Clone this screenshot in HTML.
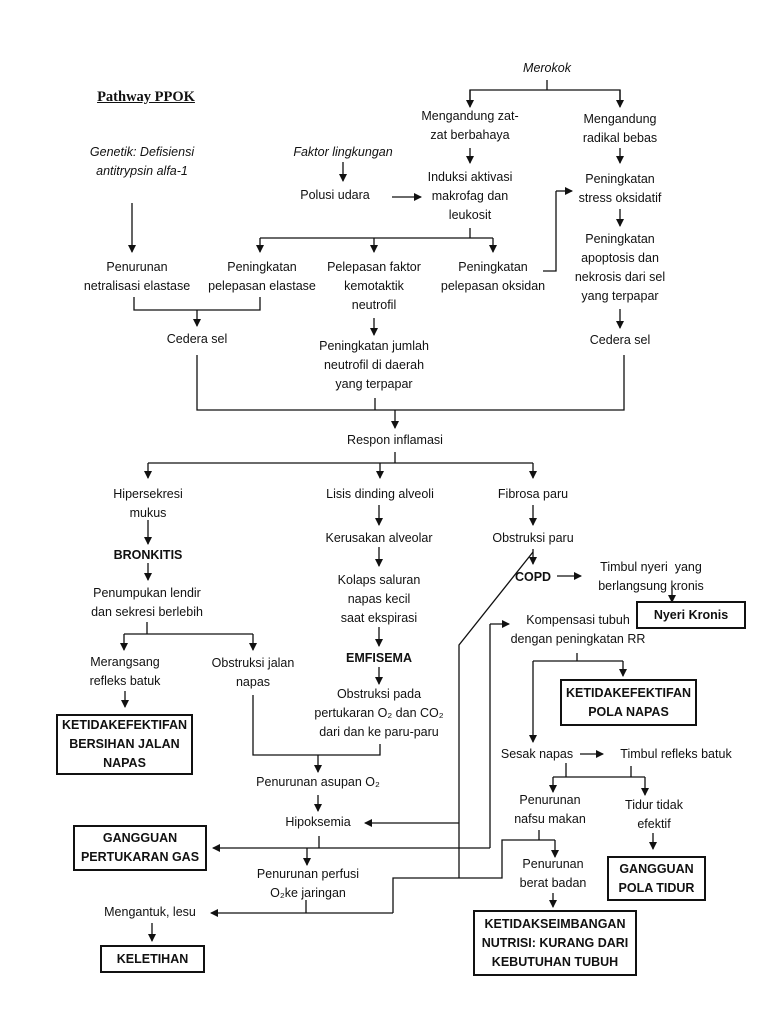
<!DOCTYPE html>
<html><head><meta charset="utf-8">
<style>
body{margin:0;background:#fff;}
#c{position:relative;width:768px;height:1024px;overflow:hidden;background:#fff;font-family:"Liberation Sans",sans-serif;font-size:12.5px;color:#111;}
.t{position:absolute;transform:translateX(-50%);white-space:pre;text-align:center;line-height:19px;}
.i{font-style:italic;}
.b{font-weight:bold;}
.bx{position:absolute;border:2px solid #111;box-sizing:border-box;display:flex;align-items:center;justify-content:center;text-align:center;font-weight:bold;font-size:12.5px;line-height:19px;white-space:pre;}
svg{position:absolute;left:0;top:0;}
</style></head><body>
<div id="c">
<svg width="768" height="1024" viewBox="0 0 768 1024">
<defs><marker id="a" markerWidth="8" markerHeight="8" refX="7" refY="4" orient="auto" markerUnits="userSpaceOnUse"><path d="M0,0 L8,4 L0,8 z" fill="#111"/></marker></defs>
<g fill="none" stroke="#111" stroke-width="1.3">
<!-- top -->
<line x1="547" y1="80" x2="547" y2="90"/>
<polyline points="470,106 470,90 620,90 620,106"/>
<line x1="470" y1="90" x2="470" y2="107" marker-end="url(#a)"/>
<line x1="620" y1="90" x2="620" y2="107" marker-end="url(#a)"/>
<line x1="470" y1="148" x2="470" y2="163" marker-end="url(#a)"/>
<line x1="620" y1="148" x2="620" y2="163" marker-end="url(#a)"/>
<line x1="343" y1="162" x2="343" y2="181" marker-end="url(#a)"/>
<line x1="392" y1="197" x2="421" y2="197" marker-end="url(#a)"/>
<line x1="132" y1="203" x2="132" y2="252" marker-end="url(#a)"/>
<line x1="470" y1="228" x2="470" y2="238"/>
<line x1="260" y1="238" x2="493" y2="238"/>
<line x1="260" y1="238" x2="260" y2="252" marker-end="url(#a)"/>
<line x1="374" y1="238" x2="374" y2="252" marker-end="url(#a)"/>
<line x1="493" y1="238" x2="493" y2="252" marker-end="url(#a)"/>
<polyline points="543,271 556,271 556,191"/>
<line x1="556" y1="191" x2="572" y2="191" marker-end="url(#a)"/>
<line x1="620" y1="209" x2="620" y2="226" marker-end="url(#a)"/>
<line x1="620" y1="309" x2="620" y2="328" marker-end="url(#a)"/>
<polyline points="134,297 134,310 260,310 260,297"/>
<line x1="197" y1="310" x2="197" y2="326" marker-end="url(#a)"/>
<line x1="374" y1="318" x2="374" y2="335" marker-end="url(#a)"/>
<polyline points="197,355 197,410 624,410 624,355"/>
<line x1="375" y1="398" x2="375" y2="410"/>
<line x1="395" y1="410" x2="395" y2="428" marker-end="url(#a)"/>
<!-- respon -->
<line x1="395" y1="452" x2="395" y2="463"/>
<line x1="148" y1="463" x2="533" y2="463"/>
<line x1="148" y1="463" x2="148" y2="478" marker-end="url(#a)"/>
<line x1="380" y1="463" x2="380" y2="478" marker-end="url(#a)"/>
<line x1="533" y1="463" x2="533" y2="478" marker-end="url(#a)"/>
<line x1="148" y1="520" x2="148" y2="544" marker-end="url(#a)"/>
<line x1="148" y1="563" x2="148" y2="580" marker-end="url(#a)"/>
<line x1="379" y1="505" x2="379" y2="525" marker-end="url(#a)"/>
<line x1="379" y1="547" x2="379" y2="566" marker-end="url(#a)"/>
<line x1="379" y1="627" x2="379" y2="646" marker-end="url(#a)"/>
<line x1="379" y1="667" x2="379" y2="684" marker-end="url(#a)"/>
<line x1="533" y1="505" x2="533" y2="525" marker-end="url(#a)"/>
<line x1="533" y1="549" x2="533" y2="564" marker-end="url(#a)"/>
<line x1="557" y1="576" x2="581" y2="576" marker-end="url(#a)"/>
<line x1="672" y1="588" x2="672" y2="602" marker-end="url(#a)"/>
<polyline points="533,552 459,645 459,878"/>
<line x1="577" y1="653" x2="577" y2="661"/>
<line x1="533" y1="661" x2="623" y2="661"/>
<line x1="623" y1="661" x2="623" y2="676" marker-end="url(#a)"/>
<line x1="533" y1="661" x2="533" y2="742" marker-end="url(#a)"/>
<line x1="580" y1="754" x2="603" y2="754" marker-end="url(#a)"/>
<line x1="566" y1="763" x2="566" y2="777"/>
<line x1="631" y1="766" x2="631" y2="777"/>
<line x1="553" y1="777" x2="645" y2="777"/>
<line x1="553" y1="777" x2="553" y2="792" marker-end="url(#a)"/>
<line x1="645" y1="777" x2="645" y2="795" marker-end="url(#a)"/>
<line x1="653" y1="833" x2="653" y2="849" marker-end="url(#a)"/>
<line x1="539" y1="830" x2="539" y2="840"/>
<polyline points="393,913 393,878 502,878 502,840 555,840"/>
<line x1="555" y1="840" x2="555" y2="857" marker-end="url(#a)"/>
<line x1="553" y1="893" x2="553" y2="907" marker-end="url(#a)"/>
<!-- left -->
<line x1="147" y1="622" x2="147" y2="634"/>
<line x1="124" y1="634" x2="253" y2="634"/>
<line x1="124" y1="634" x2="124" y2="650" marker-end="url(#a)"/>
<line x1="253" y1="634" x2="253" y2="650" marker-end="url(#a)"/>
<line x1="125" y1="691" x2="125" y2="707" marker-end="url(#a)"/>
<polyline points="253,695 253,755 380,755 380,744"/>
<line x1="318" y1="755" x2="318" y2="772" marker-end="url(#a)"/>
<line x1="318" y1="795" x2="318" y2="811" marker-end="url(#a)"/>
<line x1="459" y1="823" x2="365" y2="823" marker-end="url(#a)"/>
<line x1="319" y1="836" x2="319" y2="848"/>
<line x1="490" y1="848" x2="213" y2="848" marker-end="url(#a)"/>
<line x1="307" y1="848" x2="307" y2="865" marker-end="url(#a)"/>
<polyline points="490,848 490,624"/>
<line x1="490" y1="624" x2="509" y2="624" marker-end="url(#a)"/>
<line x1="306" y1="900" x2="306" y2="913"/>
<line x1="393" y1="913" x2="211" y2="913" marker-end="url(#a)"/>
<line x1="152" y1="923" x2="152" y2="941" marker-end="url(#a)"/>
</g>
</svg>

<div class="t b" style="left:146px;top:88px;font-family:'Liberation Serif',serif;font-size:14.5px;text-decoration:underline;">Pathway PPOK</div>
<div class="t i" style="left:547px;top:59px;">Merokok</div>
<div class="t" style="left:470px;top:107px;">Mengandung zat-
zat berbahaya</div>
<div class="t" style="left:620px;top:110px;">Mengandung
radikal bebas</div>
<div class="t i" style="left:142px;top:143px;">Genetik: Defisiensi
antitrypsin alfa-1</div>
<div class="t i" style="left:343px;top:143px;">Faktor lingkungan</div>
<div class="t" style="left:335px;top:186px;">Polusi udara</div>
<div class="t" style="left:470px;top:168px;">Induksi aktivasi
makrofag dan
leukosit</div>
<div class="t" style="left:620px;top:170px;">Peningkatan
stress oksidatif</div>
<div class="t" style="left:620px;top:230px;">Peningkatan
apoptosis dan
nekrosis dari sel
yang terpapar</div>
<div class="t" style="left:137px;top:258px;">Penurunan
netralisasi elastase</div>
<div class="t" style="left:262px;top:258px;">Peningkatan
pelepasan elastase</div>
<div class="t" style="left:374px;top:258px;">Pelepasan faktor
kemotaktik
neutrofil</div>
<div class="t" style="left:493px;top:258px;">Peningkatan
pelepasan oksidan</div>
<div class="t" style="left:197px;top:330px;">Cedera sel</div>
<div class="t" style="left:620px;top:331px;">Cedera sel</div>
<div class="t" style="left:374px;top:337px;">Peningkatan jumlah
neutrofil di daerah
yang terpapar</div>
<div class="t" style="left:395px;top:431px;">Respon inflamasi</div>

<div class="t" style="left:148px;top:485px;">Hipersekresi
mukus</div>
<div class="t" style="left:380px;top:485px;">Lisis dinding alveoli</div>
<div class="t" style="left:533px;top:485px;">Fibrosa paru</div>
<div class="t b" style="left:148px;top:546px;">BRONKITIS</div>
<div class="t" style="left:379px;top:529px;">Kerusakan alveolar</div>
<div class="t" style="left:533px;top:529px;">Obstruksi paru</div>
<div class="t" style="left:147px;top:584px;">Penumpukan lendir
dan sekresi berlebih</div>
<div class="t" style="left:379px;top:571px;">Kolaps saluran
napas kecil
saat ekspirasi</div>
<div class="t b" style="left:533px;top:568px;">COPD</div>
<div class="t" style="left:651px;top:558px;">Timbul nyeri  yang
berlangsung kronis</div>
<div class="bx" style="left:636px;top:601px;width:110px;height:28px;">Nyeri Kronis</div>
<div class="t" style="left:578px;top:611px;">Kompensasi tubuh
dengan peningkatan RR</div>
<div class="t" style="left:125px;top:653px;">Merangsang
refleks batuk</div>
<div class="t" style="left:253px;top:654px;">Obstruksi jalan
napas</div>
<div class="t b" style="left:379px;top:649px;">EMFISEMA</div>
<div class="bx" style="left:560px;top:679px;width:137px;height:47px;">KETIDAKEFEKTIFAN
POLA NAPAS</div>
<div class="t" style="left:379px;top:685px;">Obstruksi pada
pertukaran O₂ dan CO₂
dari dan ke paru-paru</div>
<div class="bx" style="left:56px;top:714px;width:137px;height:61px;">KETIDAKEFEKTIFAN
BERSIHAN JALAN
NAPAS</div>
<div class="t" style="left:537px;top:745px;">Sesak napas</div>
<div class="t" style="left:676px;top:745px;">Timbul refleks batuk</div>
<div class="t" style="left:318px;top:773px;">Penurunan asupan O₂</div>
<div class="t" style="left:550px;top:791px;">Penurunan
nafsu makan</div>
<div class="t" style="left:654px;top:796px;">Tidur tidak
efektif</div>
<div class="t" style="left:318px;top:813px;">Hipoksemia</div>
<div class="bx" style="left:73px;top:825px;width:134px;height:46px;">GANGGUAN
PERTUKARAN GAS</div>
<div class="t" style="left:308px;top:865px;">Penurunan perfusi
O₂ke jaringan</div>
<div class="t" style="left:553px;top:855px;">Penurunan
berat badan</div>
<div class="bx" style="left:607px;top:856px;width:99px;height:45px;">GANGGUAN
POLA TIDUR</div>
<div class="t" style="left:150px;top:903px;">Mengantuk, lesu</div>
<div class="bx" style="left:473px;top:910px;width:164px;height:66px;">KETIDAKSEIMBANGAN
NUTRISI: KURANG DARI
KEBUTUHAN TUBUH</div>
<div class="bx" style="left:100px;top:945px;width:105px;height:28px;">KELETIHAN</div>
</div>
</body></html>
